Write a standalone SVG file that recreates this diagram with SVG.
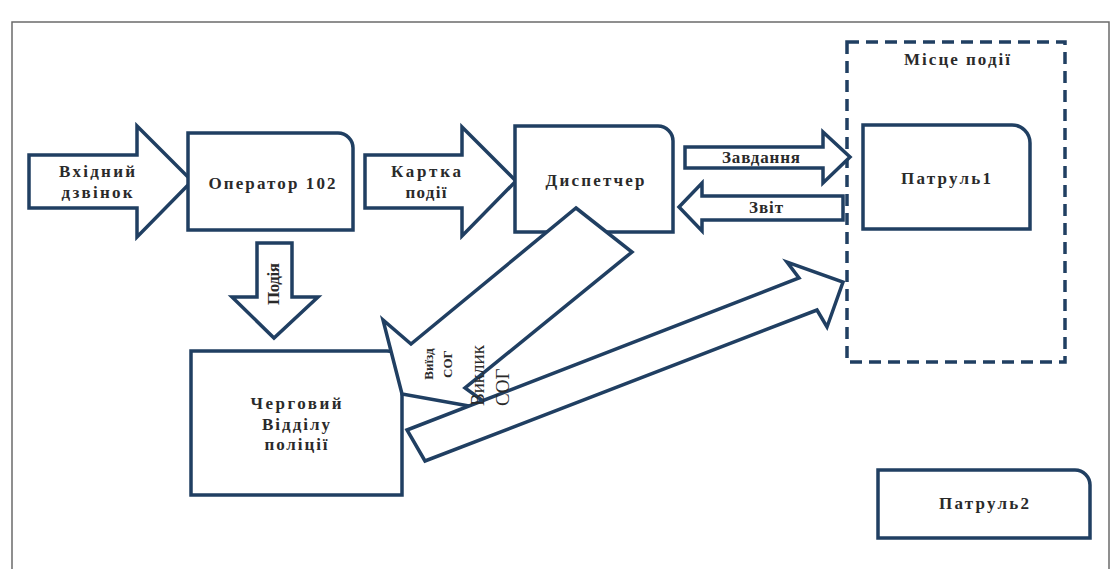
<svg xmlns="http://www.w3.org/2000/svg" width="1114" height="569" viewBox="0 0 1114 569">
<style>
.frame{fill:none;stroke:#6b6b6b;stroke-width:1.5}
.box{fill:#fff;stroke:#203f62;stroke-width:3.5}
.arr{fill:#fff;stroke:#203f62;stroke-width:3.5;stroke-linejoin:miter}
.dash{fill:none;stroke:#203f62;stroke-width:3.5;stroke-dasharray:12 7}
.t{font-family:"Liberation Serif","Times New Roman",serif;font-weight:bold;font-size:17px;fill:#2a2a2a;text-anchor:middle}
.s{font-family:"Liberation Serif","Times New Roman",serif;fill:#2a2a2a}
</style>
<rect width="1114" height="569" fill="#fff"/>
<path class="frame" d="M12,575 V22 H1109 V575"/>
<g id="mistse">
<rect class="dash" x="847" y="42" width="218" height="320"/>
<text class="t" x="957" y="65" textLength="106" lengthAdjust="spacing">Місце події</text>
</g>
<g id="connectors">
<g id="vkhidnyi">
<path class="arr" d="M29,155 H137 V126 L192,181 L137,237 V208 H29 Z"/>
<text class="t" x="97" y="177" textLength="76" lengthAdjust="spacing">Вхідний</text>
<text class="t" x="97" y="198" textLength="71" lengthAdjust="spacing">дзвінок</text>
</g>
<g id="kartka">
<path class="arr" d="M365,155 H462 V127 L516,181 L462,236 V208 H365 Z"/>
<text class="t" x="426" y="177" textLength="70" lengthAdjust="spacing">Картка</text>
<text class="t" x="426" y="198" textLength="41" lengthAdjust="spacing">події</text>
</g>
<g id="zavdannia">
<path class="arr" d="M685,147 H823 V132 L850,157 L823,183 V168 H685 Z"/>
<text class="t" x="761" y="163" font-size="16" textLength="78" lengthAdjust="spacing">Завдання</text>
</g>
<g id="zvit">
<path class="arr" d="M843,196 H702 V183 L679,207 L702,231 V220 H843 Z"/>
<text class="t" x="766" y="213" font-size="16" textLength="34" lengthAdjust="spacing">Звіт</text>
</g>
<g id="podiia">
<path class="arr" d="M257,243 H292 V297 H318 L274,338 L232,297 H257 Z"/>
<text class="t" font-size="16" transform="translate(279,284) rotate(-90)" textLength="42" lengthAdjust="spacing">Подія</text>
</g>
</g>
<g id="operator">
<path class="box" d="M188,133 H338 A15,15 0 0 1 353,148 V230 H188 Z"/>
<text class="t" x="272" y="189" textLength="127" lengthAdjust="spacing">Оператор 102</text>
</g>
<g id="dyspetcher">
<path class="box" d="M515,126 H658 A15,15 0 0 1 673,141 V232 H515 Z"/>
<text class="t" x="595" y="186" textLength="99" lengthAdjust="spacing">Диспетчер</text>
</g>
<g id="patrul1">
<path class="box" d="M863,125 H1012 A18,18 0 0 1 1030,143 V229 H863 Z"/>
<text class="t" x="946" y="184" textLength="90" lengthAdjust="spacing">Патруль1</text>
</g>
<g id="patrul2">
<path class="box" d="M878,470 H1075 A15,15 0 0 1 1090,485 V538 H878 Z"/>
<text class="t" x="984" y="509" textLength="90" lengthAdjust="spacing">Патруль2</text>
</g>
<g id="chergovyi">
<path class="box" d="M191,351 H387 A15,15 0 0 1 402,366 V495 H191 Z"/>
<text class="t" x="296" y="409" textLength="91" lengthAdjust="spacing">Черговий</text>
<text class="t" x="296" y="430" textLength="68" lengthAdjust="spacing">Відділу</text>
<text class="t" x="296" y="450" textLength="63" lengthAdjust="spacing">поліції</text>
</g>
<g id="connectors2">
<g id="vyizd">
<path class="arr" d="M576,208 L632,252 L465,388 L497,411 L402,394 L383,320 L411,344 Z"/>
<text class="s" font-size="13" font-weight="bold" text-anchor="middle" transform="translate(433,364) rotate(-90)">Виїзд</text>
<text class="s" font-size="13" font-weight="bold" text-anchor="middle" transform="translate(452,364) rotate(-90)">СОГ</text>
</g>
<g id="vyklyk">
<path class="arr" d="M407,430 L799,278 L787,262 L843,282 L827,327 L817,310 L425,461 Z"/>
<text class="s" font-size="19" transform="translate(484,406) rotate(-90)">Виклик</text>
<text class="s" font-size="19" transform="translate(509,406) rotate(-90)">СОГ</text>
</g>
</g>
</svg>
